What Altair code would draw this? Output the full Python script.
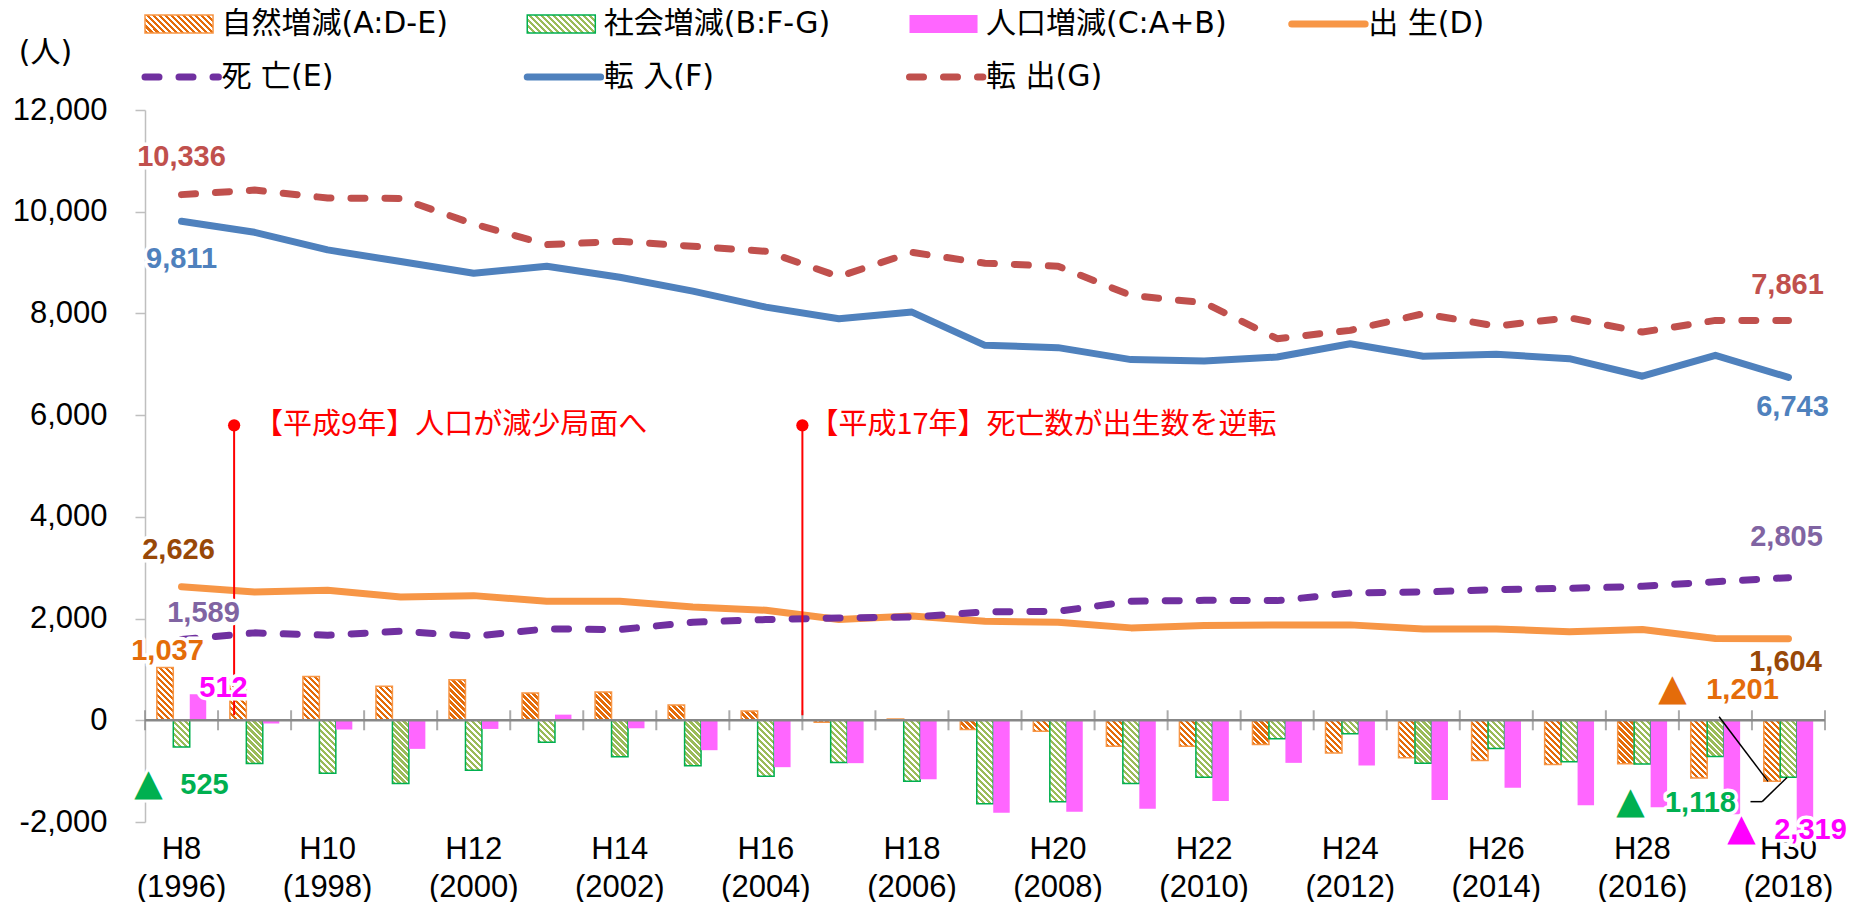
import altair as alt
import pandas as pd

# ---------------- data ----------------
years = list(range(1996, 2019))
natural_change = [1037, 800, 863, 667, 797, 536, 556, 301, 183, -39, 25, -183, -216, -510, -510,
                  -477, -641, -739, -791, -869, -856, -1137, -1201]
social_change = [-525, -850, -1040, -1245, -980, -430, -715, -895, -1100, -830, -1200, -1640, -1600,
                 -1245, -1120, -365, -265, -845, -556, -815, -860, -710, -1118]
population_change = [512, -63, -183, -562, -170, 111, -157, -588, -922, -843, -1160, -1817, -1797,
                      -1739, -1588, -837, -889, -1569, -1327, -1673, -1712, -1850, -2319]
births = [2626, 2523, 2555, 2425, 2451, 2340, 2340, 2229, 2163, 1980, 2050, 1948, 1928, 1817, 1863,
          1876, 1876, 1797, 1797, 1739, 1784, 1608, 1604]
deaths = [1589, 1719, 1673, 1751, 1653, 1797, 1784, 1928, 1980, 2013, 2030, 2131, 2143, 2340, 2359,
          2353, 2503, 2523, 2569, 2595, 2634, 2725, 2805]
moved_in = [9811, 9595, 9249, 9020, 8791, 8928, 8712, 8438, 8124, 7896, 8026, 7373, 7327, 7092, 7065,
            7143, 7405, 7157, 7196, 7111, 6765, 7176, 6743]
moved_out = [10336, 10425, 10269, 10261, 9758, 9353, 9418, 9320, 9222, 8725, 9200, 8987, 8928, 8353,
             8210, 7504, 7667, 7994, 7751, 7915, 7634, 7863, 7861]

legend_labels = ["自然増減(A:D-E)", "社会増減(B:F-G)", "人口増減(C:A+B)", "出 生(D)",
                 "死 亡(E)", "転 入(F)", "転 出(G)"]
annotation_years = [1997, 2005]
annotation_texts = ["【平成9年】人口が減少局面へ", "【平成17年】死亡数が出生数を逆転"]
unit_label = "(人)"

# ---------------- layout / style ----------------
W, H = 1680, 712
YMIN, YMAX = -2000, 12000
PXU = H / (YMAX - YMIN)
BAR_W = W / len(years) * (1 / (3 + 2 * 0.7175))
FONT = "Liberation Sans, DejaVu Sans, Noto Sans CJK JP"
CJK = "Noto Sans CJK JP, Liberation Sans"
LEGFONT = "DejaVu Sans, Noto Sans CJK JP"


def hatch(color, w, hexpr, period=6.0, n=30):
    stops = []
    for i in range(n):
        a, b, c = i / n, (i + 0.55) / n, (i + 1) / n
        stops.append("{offset:%.5f,color:'%s'}" % (a, color))
        stops.append("{offset:%.5f,color:'%s'}" % (b, color))
        stops.append("{offset:%.5f,color:'#ffffff'}" % b)
        stops.append("{offset:%.5f,color:'#ffffff'}" % c)
    den = "(%.4f+(%s)*(%s))" % (w * w, hexpr, hexpr)
    x2 = "(%.4f/%s)" % (n * period * w, den)
    y2 = "(1-%.4f*(%s)/%s)" % (n * period, hexpr, den)
    return "{gradient:'linear',x1:0,y1:1,x2:%s,y2:%s,stops:[%s]}" % (x2, y2, ",".join(stops))


XS = alt.Scale(paddingInner=0, paddingOuter=0)
XAX = alt.Axis(title=None, domain=False, ticks=False, labelAngle=0, labelFont=FONT,
               labelFontSize=31, labelColor="#000000", labelPadding=12, labelLineHeight=38,
               labelOverlap=False,
               labelExpr="datum.value % 2 == 0 ? ['H' + (datum.value - 1988), '(' + datum.value + ')'] : ''")
YS = alt.Scale(domain=[YMIN, YMAX], nice=False, zero=False)
YAX = alt.Axis(values=list(range(YMIN, YMAX + 1, 2000)), format=",d",
               labelExpr="replace(datum.label, '\u2212', '-')", grid=False,
               domainColor="#BFBFBF", domainWidth=1.5, tickColor="#BFBFBF", tickWidth=1.5,
               tickSize=10, labelFont=FONT, labelFontSize=31, labelColor="#000000",
               labelPadding=28, title=unit_label, titleAngle=0, titleX=-100, titleY=-58,
               titleAlign="center", titleBaseline="middle", titleFont=LEGFONT, titleFontSize=30,
               titleFontWeight="normal", titleColor="#000000")


def X(field="year:O", **kw):
    return alt.X(field, scale=XS, axis=XAX, **kw)


def Y(field="value:Q"):
    return alt.Y(field, scale=YS, axis=YAX)


def YD(v):
    return alt.Y(datum=v, scale=YS, axis=YAX)


# ---------------- bars ----------------
bars_df = pd.DataFrame({
    "year": years * 3,
    "series": ["A"] * len(years) + ["B"] * len(years) + ["C"] * len(years),
    "value": natural_change + social_change + population_change,
})
XOFF = alt.XOffset("series:N", scale=alt.Scale(domain=["A", "B", "C"], paddingInner=0,
                                                 paddingOuter=0.7175))
hexpr = "abs(datum.value)*%.6f" % PXU
bar_a = alt.Chart(bars_df).transform_filter(alt.datum.series == "A").mark_bar(
    fill=alt.ExprRef(expr=hatch("#E46C0A", BAR_W, hexpr)), stroke="#F79646", strokeWidth=1.5
).encode(x=X(), xOffset=XOFF, y=Y())
bar_b = alt.Chart(bars_df).transform_filter(alt.datum.series == "B").mark_bar(
    fill=alt.ExprRef(expr=hatch("#9BBB59", BAR_W, hexpr)), stroke="#00B050", strokeWidth=1.5
).encode(x=X(), xOffset=XOFF, y=Y())
bar_c = alt.Chart(bars_df).transform_filter(alt.datum.series == "C").mark_bar(
    fill="#FF66FF"
).encode(x=X(), xOffset=XOFF, y=Y())

# ---------------- zero line and category ticks ----------------
years_df = pd.DataFrame({"year": years})
zero_df = pd.DataFrame({"zero": [0]})
zero_rule = alt.Chart(zero_df).mark_rule(color="#878787", strokeWidth=2.5).encode(y=Y("zero:Q"))
ticks = alt.Chart(years_df).mark_tick(orient="vertical", size=20, thickness=2, color="#878787").encode(
    x=X(bandPosition=0), y=YD(0))
tick_end = alt.Chart(years_df).transform_filter(alt.datum.year == years[-1]).mark_tick(
    orient="vertical", size=20, thickness=2, color="#878787").encode(
    x=X(bandPosition=1), y=YD(0))

# ---------------- lines ----------------
lines_df = pd.DataFrame({
    "year": years * 4,
    "series": ["D"] * 23 + ["E"] * 23 + ["F"] * 23 + ["G"] * 23,
    "value": births + deaths + moved_in + moved_out,
})
line_styles = {
    "D": dict(color="#F79646"),
    "E": dict(color="#7030A0", strokeDash=[14, 20]),
    "F": dict(color="#4F81BD"),
    "G": dict(color="#C0504D", strokeDash=[14, 20]),
}
line_layers = []
for s, st in line_styles.items():
    line_layers.append(
        alt.Chart(lines_df).transform_filter(alt.datum.series == s).mark_line(
            strokeWidth=7, strokeCap="round", strokeJoin="round", **st
        ).encode(x=X(), y=Y())
    )

# ---------------- annotations ----------------
anno_layers = []
for yr, txt, bp, dx in zip(annotation_years, annotation_texts, [0.22, 0.0], [20, 7]):
    adf = pd.DataFrame({"year": [yr], "label": [txt]})
    anno_layers.append(alt.Chart(adf).mark_rule(color="#FF0000", strokeWidth=2).encode(
        x=X(bandPosition=bp), y=YD(5800), y2=alt.Y2(datum=100)))
    anno_layers.append(alt.Chart(adf).mark_point(shape="circle", size=150, filled=True,
                                                 color="#FF0000", opacity=1).encode(
        x=X(bandPosition=bp), y=YD(5800)))
    anno_layers.append(alt.Chart(adf).mark_text(align="left", baseline="middle", font=CJK,
                                                fontSize=29, color="#FF0000", dx=dx).encode(
        x=X(bandPosition=bp), y=YD(5800), text="label:N"))


# ---------------- data labels ----------------
def value_label(year, value, color, dx, dy, negative=False, tri_dx=0):
    df = pd.DataFrame({"year": [year], "value": [value]})
    expr = "format(abs(datum.value), ',')"
    base = alt.Chart(df).transform_calculate(label=expr).encode(x=X(), y=Y(), text="label:N")
    common = dict(font=FONT, fontSize=29, fontWeight="bold", align="center", baseline="middle",
                  dx=dx, dy=dy)
    out = [base.mark_text(stroke="white", strokeWidth=7, strokeJoin="round", fill="white", **common),
           base.mark_text(color=color, **common)]
    if negative:
        tri = alt.Chart(df).transform_calculate(tri="'\u25b2'").encode(x=X(), y=Y(), text="tri:N")
        tcommon = dict(font="DejaVu Sans", fontSize=37, align="center", baseline="middle",
                       dx=tri_dx, dy=dy - 1)
        out += [tri.mark_text(stroke="white", strokeWidth=6, strokeJoin="round", fill="white", **tcommon),
                tri.mark_text(color=color, **tcommon)]
    return out


i0, i1 = 0, len(years) - 1
label_layers = []
label_layers += value_label(years[i0], moved_out[i0], "#C0504D", 0, -38)
label_layers += value_label(years[i0], moved_in[i0], "#4F81BD", 0, 38)
label_layers += value_label(years[i1], moved_out[i1], "#C0504D", -1, -35)
label_layers += value_label(years[i1], moved_in[i1], "#4F81BD", 4, 30)
label_layers += value_label(years[i0], births[i0], "#984807", -3, -37)
label_layers += value_label(years[i0], deaths[i0], "#8064A2", 22, -26)
label_layers += value_label(years[i0], natural_change[i0], "#E46C0A", -14, -17)
label_layers += value_label(years[i0], population_change[i0], "#FF00FF", 42, -6)
label_layers += value_label(years[i1], deaths[i1], "#8064A2", -2, -41)
label_layers += value_label(years[i1], births[i1], "#984807", -3, 23)

# leader lines for the last-year bar labels (drawn under the labels)
leader_df = pd.DataFrame({"prev": [years[i1 - 1]], "last": [years[i1]]})
leaders = [
    alt.Chart(leader_df).mark_rule(color="#000000", strokeWidth=1.5).encode(
        x=X("prev:O", bandPosition=0.55), x2=alt.X2("last:O", bandPosition=0.22),
        y=YD(70), y2=alt.Y2(datum=-1201)),
    alt.Chart(leader_df).mark_rule(color="#000000", strokeWidth=1.5).encode(
        x=X("prev:O", bandPosition=0.98), x2=alt.X2("last:O", bandPosition=0.14),
        y=YD(-1600), y2=alt.Y2(datum=-1600)),
    alt.Chart(leader_df).mark_rule(color="#000000", strokeWidth=1.5).encode(
        x=X("last:O", bandPosition=0.14), x2=alt.X2("last:O", bandPosition=0.48),
        y=YD(-1600), y2=alt.Y2(datum=-1125)),
]

label_layers += value_label(years[i0], social_change[i0], "#00B050", 23, 38, negative=True, tri_dx=-33)
label_layers += value_label(years[i1], natural_change[i1], "#E46C0A", -46, -91, negative=True, tri_dx=-116)
label_layers += value_label(years[i1], social_change[i1], "#00B050", -88, 26, negative=True, tri_dx=-158)
label_layers += value_label(years[i1], population_change[i1], "#FF00FF", 22, -8, negative=True, tri_dx=-47)

main = alt.layer(
    bar_a, bar_b, bar_c, zero_rule, ticks, tick_end, *line_layers, *anno_layers, *leaders,
    *label_layers
).properties(width=W, height=H)

# ---------------- legend (separate panel) ----------------
LEG_POS = [(0, 0), (1, 0), (2, 0), (3, 0), (0, 1), (1, 1), (2, 1)]
leg_kinds = ["hatchA", "hatchB", "solidC", "lineD", "lineE", "lineF", "lineG"]
LXS = alt.Scale(domain=[0, 4], nice=False, zero=False)
LYS = alt.Scale(domain=[0, 1], range=[16, 69], nice=False, zero=False)
legend_layers = []
for lab, kind, (c, r) in zip(legend_labels, leg_kinds, LEG_POS):
    df = pd.DataFrame({"col": [c], "row": [r], "label": [lab]})
    base = alt.Chart(df).transform_calculate(
        x0="datum.col", x1="datum.col + 0.178", xl="datum.col + 0.192", tx="datum.col + 0.2",
        y0="datum.row - 0.17", y1="datum.row + 0.17")
    if kind.startswith("hatch") or kind == "solidC":
        if kind == "hatchA":
            mk = dict(fill=alt.ExprRef(expr=hatch("#E46C0A", 68, "18")), stroke="#F79646", strokeWidth=1.5)
        elif kind == "hatchB":
            mk = dict(fill=alt.ExprRef(expr=hatch("#9BBB59", 68, "18")), stroke="#00B050", strokeWidth=1.5)
        else:
            mk = dict(fill="#FF66FF")
        legend_layers.append(base.mark_rect(**mk).encode(
            x=alt.X("x0:Q", scale=LXS, axis=None), x2="x1:Q",
            y=alt.Y("y0:Q", scale=LYS, axis=None), y2="y1:Q"))
    else:
        st = line_styles[kind[-1]]
        legend_layers.append(base.mark_rule(strokeWidth=7, strokeCap="round", **st).encode(
            x=alt.X("x0:Q", scale=LXS, axis=None), x2="xl:Q",
            y=alt.Y("row:Q", scale=LYS, axis=None)))
    legend_layers.append(base.mark_text(align="left", baseline="middle", font=LEGFONT, fontSize=30,
                                        color="#000000").encode(
        x=alt.X("tx:Q", scale=LXS, axis=None), y=alt.Y("row:Q", scale=LYS, axis=None),
        text="label:N"))

legend = alt.layer(*legend_layers).properties(width=1529, height=90)

chart = alt.vconcat(legend, main, spacing=12, bounds="flush").properties(
    padding={"left": 4, "top": 0, "right": 0, "bottom": 0}
).configure(background="white").configure_view(stroke=None)

chart.save("out.html", embed_options={"renderer": "svg", "actions": False})
